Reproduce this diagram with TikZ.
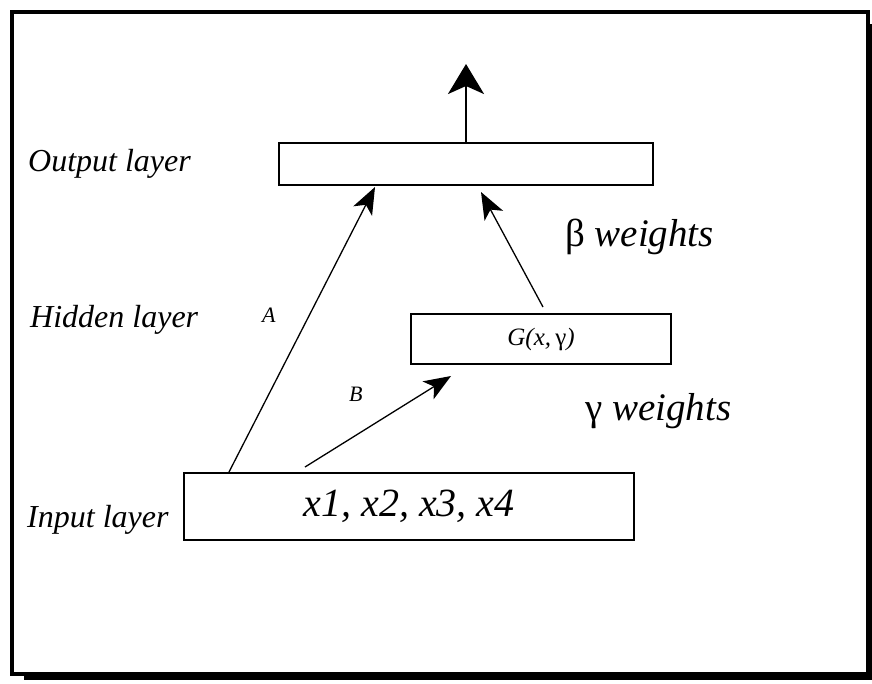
\documentclass[tikz,border=0pt]{standalone}
\usepackage{fontspec}
\setmainfont{Liberation Serif}
\usetikzlibrary{arrows.meta}
\begin{document}
\begin{tikzpicture}[x=1pt,y=-1pt,
  box/.style={draw, line width=2pt, inner sep=0pt, fill=white},
  lbl/.style={anchor=base west, inner sep=0pt, font=\fontsize{32}{36}\selectfont\itshape},
  big/.style={anchor=base west, inner sep=0pt, font=\fontsize{39}{44}\selectfont\itshape},
  small/.style={anchor=base west, inner sep=0pt, font=\fontsize{22}{26}\selectfont\itshape},
  arr/.style={line width=1.3pt, -{Stealth[length=27pt,width=21pt,inset=7pt]}},
  bigarr/.style={line width=2.5pt, -{Stealth[length=30pt,width=36pt,inset=8pt]}}]
\useasboundingbox (0,0) rectangle (872,683);
% frame with shadow
\fill (24,676) rectangle (872,680);
\fill (870,24) rectangle (874,680);
\draw[line width=4pt] (12,12) rectangle (868,674);
% boxes
\node[box, minimum width=374pt, minimum height=42pt] (out) at (466,164) {};
\node[box, minimum width=260pt, minimum height=50pt, font=\fontsize{25}{28}\selectfont\itshape] (hid) at (541,339) {G(x,\,\textup{γ})};
\node[box, minimum width=450pt, minimum height=67pt, font=\fontsize{40}{44}\selectfont\itshape] (inp) at (409,506.5) {x1, x2, x3, x4};
% labels
\node[lbl] (lo) at (28,171) {Output layer};
\node[lbl] (lh) at (30,327) {Hidden layer};
\node[lbl] (li) at (27,527) {Input layer};
\node[small] (la) at (262,322) {A};
\node[small] (lb) at (349,401) {B};
\node[big] (lbeta) at (565,246) {\textup{β} weights};
\node[big] (lgam) at (585,420) {\textup{γ} weights};
% connectors
\coordinate (top) at ([yshift=78pt]out.north);
\coordinate (a0) at (229,472);
\coordinate (a1) at (375,187);
\coordinate (b0) at (305,467);
\coordinate (b1) at (451,376);
\coordinate (c0) at (543,307);
\coordinate (c1) at (481,192);
\draw[bigarr] (out.north) -- (top);
\draw[arr] (a0) -- (a1);
\draw[arr] (b0) -- (b1);
\draw[arr] (c0) -- (c1);
\end{tikzpicture}
\end{document}
